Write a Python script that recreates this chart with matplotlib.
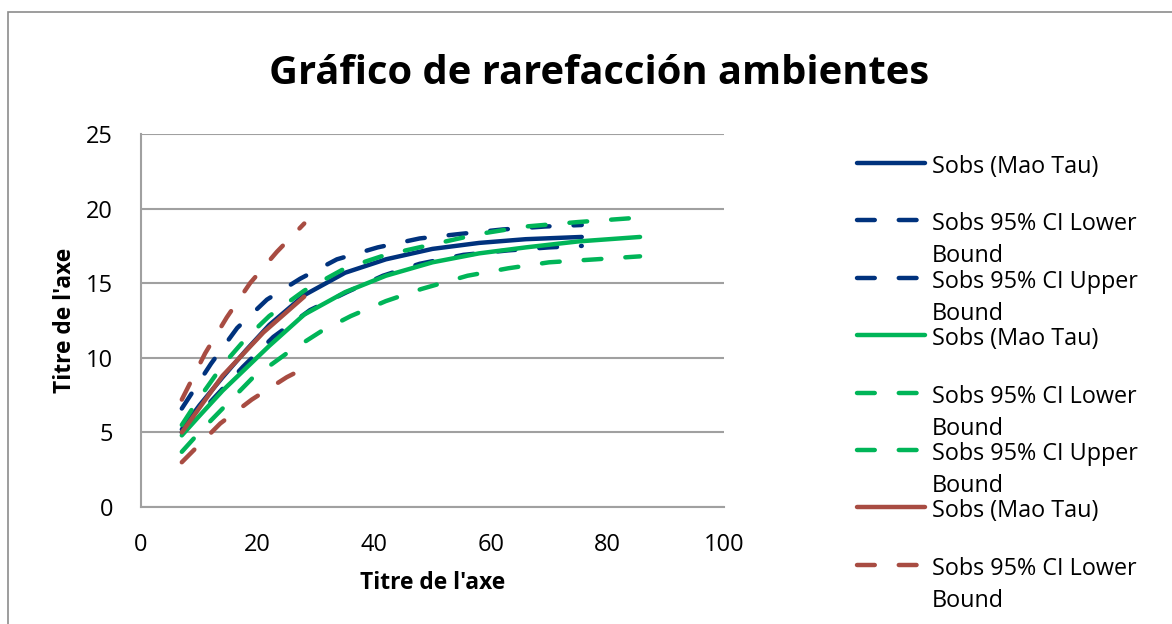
import matplotlib.pyplot as plt
from matplotlib.lines import Line2D
from matplotlib.patches import Rectangle

plt.rcParams['font.family'] = ['Open Sans', 'DejaVu Sans']

# rarefaction curves, read per series (x = samples, y = species)
blue_x = [7, 10, 14, 18, 22, 28, 35, 42, 50, 58, 66, 75.6]
blue_obs = [5.2, 6.8, 8.7, 10.5, 12.2, 14.2, 15.7, 16.6, 17.3, 17.7, 17.95, 18.1]
blue_low_x = [7, 11.8, 17.5, 22.7, 29, 35.3, 41.5, 47.8, 55.3, 63, 70, 75.6]
blue_low = [5.0, 7.0, 9.4, 11.4, 13.2, 14.4, 15.5, 16.3, 16.9, 17.2, 17.4, 17.5]
blue_up_x = [7, 12, 16.5, 21.6, 27.3, 33.6, 40.6, 47.8, 54.7, 62, 69.3, 75.6]
blue_up = [6.6, 9.6, 12.0, 13.9, 15.3, 16.6, 17.4, 18.0, 18.3, 18.6, 18.8, 18.9]

green_x = [7, 10, 14, 18, 22, 28, 35, 42, 50, 58, 66, 75, 85.6]
green_obs = [4.8, 6.1, 7.8, 9.3, 10.8, 12.9, 14.4, 15.5, 16.4, 17.0, 17.4, 17.8, 18.1]
green_low_x = [7, 10, 14, 19, 25, 31, 36, 42, 48, 56, 63, 70, 78, 85.6]
green_low = [3.7, 5.0, 6.6, 8.6, 10.3, 11.8, 12.8, 13.8, 14.6, 15.5, 16.0, 16.4, 16.6, 16.8]
green_up_x = [7, 10, 14, 18, 22, 28, 35, 42, 50, 58, 66, 75, 85.6]
green_up = [5.5, 7.3, 9.5, 11.3, 12.8, 14.5, 16.0, 16.9, 17.6, 18.3, 18.8, 19.1, 19.4]

red_x = [7, 14, 21, 28]
red_obs = [5.0, 8.8, 11.7, 14.1]
red_low_x = [7, 13.6, 19, 25, 28]
red_low = [3.0, 5.6, 7.2, 8.7, 9.3]
red_up_x = [7, 11, 14.7, 18.7, 23.3, 28]
red_up = [7.2, 10.3, 12.7, 15.0, 17.1, 19.0]

BLUE = '#00327D'
GREEN = '#00B558'
RED = '#A84C42'

series = [
    (blue_x, blue_obs, BLUE, '-', 'Sobs (Mao Tau)'),
    (blue_low_x, blue_low, BLUE, '--', 'Sobs 95% CI Lower\nBound'),
    (blue_up_x, blue_up, BLUE, '--', 'Sobs 95% CI Upper\nBound'),
    (green_x, green_obs, GREEN, '-', 'Sobs (Mao Tau)'),
    (green_low_x, green_low, GREEN, '--', 'Sobs 95% CI Lower\nBound'),
    (green_up_x, green_up, GREEN, '--', 'Sobs 95% CI Upper\nBound'),
    (red_x, red_obs, RED, '-', 'Sobs (Mao Tau)'),
    (red_low_x, red_low, RED, '--', 'Sobs 95% CI Lower\nBound'),
    (red_up_x, red_up, RED, '--', None),
]

DASH = (0, (4.0, 5.4))
LW = 3.2

fig = plt.figure(figsize=(11.72, 6.24), dpi=100)
ax = fig.add_axes([141 / 1172, 1 - 507 / 624, (724 - 141) / 1172, (507 - 134) / 624])

for xs, ys, c, ls, lab in series:
    style = DASH if ls == '--' else '-'
    ax.plot(xs, ys, color=c, lw=LW, linestyle=style,
            dash_capstyle='round', solid_capstyle='round', zorder=3)

ax.set_xlim(0, 100)
ax.set_ylim(0, 25)
ax.set_xticks([0, 20, 40, 60, 80, 100])
ax.set_yticks([0, 5, 10, 15, 20, 25])
ax.grid(axis='y', color='#A0A0A0', lw=1.5)
ax.tick_params(length=0, labelsize=17)
ax.tick_params(axis='x', pad=19)
ax.tick_params(axis='y', pad=20)
for s in ['top', 'right']:
    ax.spines[s].set_visible(False)
for s in ['left', 'bottom']:
    ax.spines[s].set_color('#A0A0A0')
    ax.spines[s].set_linewidth(1.5)

ax.set_xlabel("Titre de l'axe", fontsize=16.4, fontweight='bold')
ax.set_ylabel("Titre de l'axe", fontsize=16.4, fontweight='bold')
ax.xaxis.set_label_coords(0.5, -0.172)
ax.yaxis.set_label_coords(-0.11, 0.5)
fig.text(599 / 1172, 1 - 74 / 624, 'Gráfico de rarefacción ambientes',
         fontsize=28.7, fontweight='bold', ha='center', va='center')

# legend drawn by hand so the key sits on the first text line
ly = 163
for xs, ys, c, ls, lab in series:
    if lab is None:
        continue
    yf = 1 - ly / 624
    style = DASH if ls == '--' else '-'
    fig.add_artist(Line2D([857 / 1172, 925 / 1172], [yf, yf], color=c, lw=LW,
                          linestyle=style, dash_capstyle='round',
                          solid_capstyle='round'))
    for i, line in enumerate(lab.split('\n')):
        fig.text(932 / 1172, 1 - (ly + 10 + 32 * i) / 624, line,
                 fontsize=16.8, va='baseline', ha='left')
    ly += 57.4

fig.add_artist(Rectangle((8 / 1172, -0.1), 1.2, 1 - 12 / 624 + 0.1,
                         fill=False, edgecolor='#8C8C8C', lw=1.2,
                         transform=fig.transFigure))

fig.savefig('out.png', dpi=100)
